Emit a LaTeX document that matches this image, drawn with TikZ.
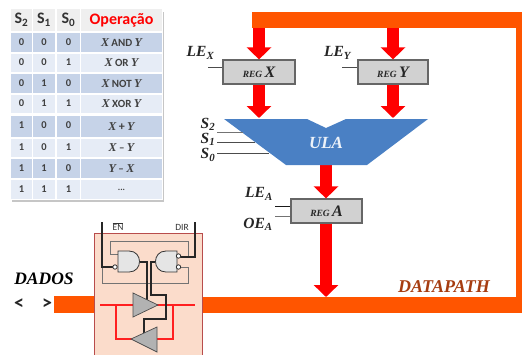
\documentclass[tikz,border=0pt]{standalone}
\usepackage{fontspec}
\setmainfont{Carlito}
\newfontfamily\capt{Liberation Serif}
\usetikzlibrary{arrows.meta,shadows}

\definecolor{busorange}{HTML}{FF5500}
\definecolor{rowdark}{HTML}{C6D3E8}
\definecolor{rowlight}{HTML}{E6ECF6}
\definecolor{headgray}{HTML}{EFEFEF}
\definecolor{ulablue}{HTML}{4A80C4}
\definecolor{boxpeach}{HTML}{FBDCCB}
\definecolor{pathbrown}{HTML}{A63C10}
\definecolor{wirered}{HTML}{FF2020}
\newcommand{\bi}{\capt\bfseries\itshape}
\newcommand{\opxy}[3]{{\bi\fontsize{12}{12}\selectfont #1}\ {\fontsize{11}{11}\selectfont #2}\ {\bi\fontsize{12}{12}\selectfont #3}}
\newcommand{\regname}[1]{{\bi\fontsize{9.5}{9.5}\selectfont REG} {\bi\fontsize{16}{16}\selectfont #1}}

\tikzset{
  cell/.style={inner sep=0pt,font=\bfseries\fontsize{10.5}{10.5}\selectfont,text=black!75},
  headcell/.style={fill=headgray,inner sep=0pt,font=\bfseries\fontsize{16}{16}\selectfont,text=black!80},
  regbox/.style={draw=black!60,line width=1.2pt,fill=black!18,minimum height=24pt,inner sep=0pt,text=black!85},
  busarrow/.style={red,line width=12pt,-{Triangle[width=24pt,length=12pt]}},
  sigline/.style={black!70,line width=0.8pt},
  ttl/.style={font=\bi\fontsize{15.5}{15.5}\selectfont,text=black!85,inner sep=0pt},
  gatebody/.style={draw=black!80,fill=black!10,line width=0.8pt},
  tribody/.style={draw=black!70,fill=black!30,line width=0.7pt},
  darkwire/.style={black!85,line width=1.1pt},
  graywire/.style={black!55,line width=1pt},
  redwire/.style={wirered,line width=1.2pt}
}

\begin{document}
\begin{tikzpicture}[x=1pt,y=-1pt]
        \useasboundingbox (0,0) rectangle (522,354);
        \clip (0,0) rectangle (522,354);

        % Table
        \node[fill=white,drop shadow={opacity=0.45,shadow xshift=1pt,shadow yshift=-2pt},minimum width=152pt,minimum height=190pt,inner sep=0pt] (tablebg) at (86.5,104.5) {};
        \node[headcell,minimum width=21pt,minimum height=22pt] (headA) at (21.5,20) {S\textsubscript{2}};
        \node[headcell,minimum width=22pt,minimum height=22pt] (headB) at (44,20) {S\textsubscript{1}};
        \node[headcell,minimum width=23pt,minimum height=22pt] (headC) at (68.5,20) {S\textsubscript{0}};
        \node[headcell,minimum width=81pt,minimum height=22pt,text=red] (headD) at (121.5,20) {Operação};
        \foreach \n/\ya/\yb/\col/\up/\a/\b/\c/\op in {
            1/33/52/rowdark/1/0/0/0/{\opxy{X}{AND}{Y}},
            2/54/72/rowlight/1/0/0/1/{\opxy{X}{OR}{Y}},
            3/74/93/rowdark/1/0/1/0/{\opxy{X}{NOT}{Y}},
            4/95/113/rowlight/1/0/1/1/{\opxy{X}{XOR}{Y}},
            5/116/137/rowdark/3/1/0/0/{\raisebox{-1.5pt}{\opxy{X}{\bfseries\fontsize{12}{12}\selectfont +}{Y}}},
            6/139/157/rowlight/1/1/0/1/{\opxy{X}{\bfseries --}{Y}},
            7/159/178/rowdark/1/1/1/0/{\opxy{Y}{\bfseries --}{X}},
            8/180/199/rowlight/1/1/1/1/{\bfseries\fontsize{9}{9}\selectfont ...}} {
          \pgfmathsetmacro{\ym}{(\ya+\yb)/2}
          \pgfmathsetmacro{\hh}{\yb-\ya}
          \node[cell,fill=\col,minimum width=21pt,minimum height=\hh pt] (ra\n) at (21.5,\ym) {\raisebox{\up pt}{\a}};
          \node[cell,fill=\col,minimum width=22pt,minimum height=\hh pt] (rb\n) at (44,\ym) {\raisebox{\up pt}{\b}};
          \node[cell,fill=\col,minimum width=23pt,minimum height=\hh pt] (rc\n) at (68.5,\ym) {\raisebox{\up pt}{\c}};
          \node[cell,fill=\col,minimum width=81pt,minimum height=\hh pt] (rd\n) at (121.5,\ym) {\op};
        }

        % Points on the bus and on the ULA
        \coordinate (topX) at (259,28);
        \coordinate (topY) at (393,28);
        \coordinate (ulaX) at (259,118);
        \coordinate (ulaY) at (393,118);
        \coordinate (ulaOut) at (326,165);
        \coordinate (busA) at (326,297);

        % Registers
        \node[regbox,minimum width=72pt] (regX) at (259,72) {\regname{X}};
        \node[regbox,minimum width=70pt] (regY) at (393,72) {\regname{Y}};
        \node[regbox,minimum width=71pt] (regA) at (326.5,211) {\regname{A}};

        % Red arrows
        \draw[busarrow] (topX) -- (regX.north);
        \draw[busarrow] (topY) -- (regY.north);
        \draw[busarrow] (regX.south) -- (ulaX);
        \draw[busarrow] (regY.south) -- (ulaY);
        \draw[busarrow] (ulaOut) -- (regA.north -| ulaOut);
        \draw[busarrow] (regA.south -| busA) -- (busA);

        % ULA
        \fill[ulablue] (224,119) -- (307,119) -- (326,128) -- (346,119) -- (428,119) -- (367,165) -- (286,165) -- cycle;
        \node[font=\bi\fontsize{17}{17}\selectfont,text=white!90!ulablue,inner sep=0pt] (ula) at (326,143) {ULA};

        % Bus
        \draw[busorange,line width=16pt] (252,20) -- (524,20) -- (524,304.5) -- (202,304.5);
        \fill[busorange] (54,296) rectangle (95,313);

        % Control signals
        \node[ttl] (leX) at (200.5,53) {LE\textsubscript{X}};
        \node[ttl] (leY) at (337.5,53) {LE\textsubscript{Y}};
        \node[ttl] (leA) at (259,194) {LE\textsubscript{A}};
        \node[ttl] (oeA) at (258,224) {OE\textsubscript{A}};
        \node[ttl] (sTwo) at (208,124) {S\textsubscript{2}};
        \node[ttl] (sOne) at (208,139) {S\textsubscript{1}};
        \node[ttl] (sZero) at (208,155) {S\textsubscript{0}};
        \coordinate (leXend) at (208,67);
        \coordinate (leYend) at (342,67);
        \coordinate (leAend) at (275,206);
        \coordinate (oeAend) at (275,216);
        \draw[sigline] (leXend) -- (regX.west |- leXend);
        \draw[sigline] (leYend) -- (regY.west |- leYend);
        \draw[sigline,black!90] (leAend) -- (regA.west |- leAend);
        \draw[sigline,black!55,line width=1pt] (oeAend) -- (regA.west |- oeAend);
        \draw[sigline,black!55] (217,132) -- (243,132);
        \draw[sigline] (217,142) -- (255,142);
        \draw[sigline] (217,153) -- (269,153);

        % Transceiver
        \draw[draw=red!60!black!70,fill=boxpeach,line width=0.8pt] (94,233) rectangle (202,360);
        \draw[graywire] (118,254) -- (110,254) -- (110,241) -- (188,241) -- (188,257) -- (180,257);
        \draw[graywire] (102,267) -- (102,283) -- (188,283) -- (188,267) -- (180,267);
        \draw[darkwire] (102,222) -- (102,267) -- (113,267);
        \draw[darkwire] (195,222) -- (195,257) -- (180,257);

        \draw[redwire] (116,305) -- (116,339) -- (173,339) -- (173,305);
        \draw[redwire] (100,305) -- (195,305);
        \draw[darkwire] (140,262) -- (147,262) -- (147,300);
        \draw[darkwire] (155,262) -- (151,262) -- (151,295) -- (166,295) -- (166,319) -- (144,319) -- (144,333);
        \draw[tribody] (133,293) -- (133,317) -- (158,305) -- cycle;
        \draw[tribody] (157,327) -- (157,352) -- (131,339) -- cycle;

        \draw[gatebody] (118,251) -- (129,251) .. controls (143,251) and (143,272) .. (129,272) -- (118,272) -- cycle;
        \draw[gatebody] (177,251) -- (166,251) .. controls (152,251) and (152,272) .. (166,272) -- (177,272) -- cycle;
        \draw[gatebody,fill=white] (115,267) circle (2.2pt);
        \draw[gatebody,fill=white] (178.5,256) circle (2.2pt);
        \draw[gatebody,fill=white] (178.5,267) circle (2.2pt);

        \node[inner sep=0pt,font=\fontsize{9.5}{9.5}\selectfont,text=black!80] (enLabel) at (118,226.5) {$\overline{\mbox{EN}}$};
        \node[inner sep=0pt,font=\fontsize{9.5}{9.5}\selectfont,text=black!80] (dirLabel) at (182,227) {DIR};

        % Labels
        \node[inner sep=0pt,font=\bi\fontsize{17.5}{17.5}\selectfont,text=black] (dados) at (44,279) {DADOS};
        \node[inner sep=0pt,font=\bfseries\fontsize{20}{20}\selectfont,text=black!85] (ltSign) at (19,304) {<};
        \node[inner sep=0pt,font=\bfseries\fontsize{20}{20}\selectfont,text=black!85] (gtSign) at (47,304) {>};
        \node[inner sep=0pt,font=\bi\fontsize{18}{18}\selectfont,text=pathbrown] (datapath) at (444,287) {DATAPATH};
\end{tikzpicture}
\end{document}
